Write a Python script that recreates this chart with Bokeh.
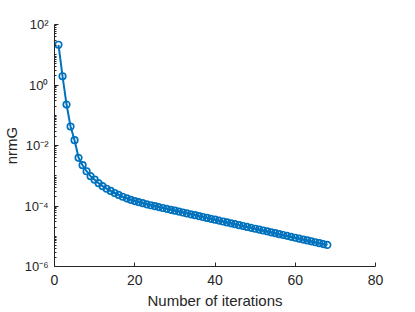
from bokeh.plotting import figure
from bokeh.models import FixedTicker, CustomJSTickFormatter, Range1d
from bokeh.embed import file_html
from bokeh.resources import INLINE

# Data (iteration number vs. nrmG)
iterations = list(range(1, 69))
nrmG = [
    21.4, 1.95, 0.226, 0.0425, 0.0150, 3.92e-3, 2.23e-3, 1.41e-3, 9.66e-4, 7.41e-4,
    5.69e-4, 4.52e-4, 3.72e-4, 3.16e-4, 2.69e-4, 2.32e-4, 2.02e-4, 1.78e-4, 1.60e-4, 1.46e-4,
    1.34e-4, 1.24e-4, 1.14e-4, 1.06e-4, 9.86e-5, 9.20e-5, 8.59e-5, 8.04e-5, 7.50e-5, 7.00e-5,
    6.53e-5, 6.10e-5, 5.70e-5, 5.32e-5, 4.97e-5, 4.63e-5, 4.33e-5, 4.05e-5, 3.78e-5, 3.52e-5,
    3.29e-5, 3.07e-5, 2.87e-5, 2.68e-5, 2.50e-5, 2.33e-5, 2.18e-5, 2.04e-5, 1.90e-5, 1.77e-5,
    1.66e-5, 1.55e-5, 1.45e-5, 1.35e-5, 1.26e-5, 1.17e-5, 1.10e-5, 1.03e-5, 9.57e-6, 8.93e-6,
    8.34e-6, 7.78e-6, 7.28e-6, 6.79e-6, 6.34e-6, 5.92e-6, 5.52e-6, 5.16e-6,
]
x_ticks = [0, 20, 40, 60, 80]
y_ticks = [1e-6, 1e-4, 1e-2, 1e0, 1e2]
y_minor = [k * 10.0 ** n for n in range(-6, 2) for k in range(1, 10)]
x_label = "Number of iterations"
y_label = "nrmG"

BLUE = "#0072BD"
AX = "#262626"
FONT = "Liberation Sans"

p = figure(width=415, height=312, y_axis_type="log",
           x_range=Range1d(0, 80), y_range=Range1d(1e-6, 1e2),
           output_backend="svg", toolbar_location=None,
           min_border_left=54, min_border_right=40,
           min_border_top=24, min_border_bottom=46)

p.outline_line_color = None
p.xgrid.grid_line_color = None
p.ygrid.grid_line_color = None
p.background_fill_color = "white"
p.border_fill_color = "white"

p.line(iterations, nrmG, line_color=BLUE, line_width=2)
p.scatter(iterations, nrmG, marker="circle", size=6.5, fill_color=None,
          line_color=BLUE, line_width=1.7)

# x axis
p.xaxis.ticker = FixedTicker(ticks=x_ticks)
p.xaxis.axis_label = x_label

# y axis
p.yaxis.ticker = FixedTicker(ticks=y_ticks, minor_ticks=y_minor)
p.yaxis.formatter = CustomJSTickFormatter(code="""
const sup = {'0':'\u2070','1':'\u00b9','2':'\u00b2','3':'\u00b3','4':'\u2074',
             '5':'\u2075','6':'\u2076','7':'\u2077','8':'\u2078','9':'\u2079','-':'\u207b'};
const e = Math.round(Math.log10(tick)).toString();
let s = '';
for (const c of e) s += sup[c];
return '10' + s;
""")
p.yaxis.axis_label = y_label

for ax in (p.xaxis, p.yaxis):
    ax.axis_line_color = AX
    ax.axis_line_width = 1
    ax.major_tick_line_color = AX
    ax.major_tick_in = 4
    ax.major_tick_out = 0
    ax.minor_tick_in = 2
    ax.minor_tick_out = 0
    ax.major_label_text_font = FONT
    ax.major_label_text_color = AX
    ax.axis_label_text_font = FONT
    ax.axis_label_text_font_size = "15px"
    ax.axis_label_text_font_style = "normal"
    ax.axis_label_text_color = AX

p.xaxis.major_label_text_font_size = "14px"
p.yaxis.major_label_text_font_size = "13px"
p.xaxis.minor_tick_line_color = None
p.yaxis.minor_tick_line_color = AX

p.xaxis.major_label_standoff = 8
p.xaxis.axis_label_standoff = 4
p.yaxis.major_label_standoff = 6
p.yaxis.axis_label_standoff = 1

open("out.html", "w").write(file_html(p, INLINE))
